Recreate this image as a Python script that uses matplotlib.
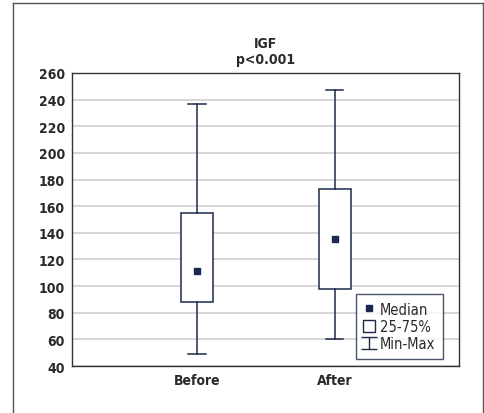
import matplotlib.pyplot as plt
from matplotlib.lines import Line2D
from matplotlib.patches import Rectangle
from matplotlib.path import Path

groups = ["Before", "After"]
v_min = [49, 60]
q25 = [88, 98]
median = [111, 135]
q75 = [155, 173]
v_max = [237, 247]

navy = "#1b2a4a"
txt = "#2a2a2a"
plt.rcParams['font.family'] = ['DejaVu Sans']
plt.rcParams['font.stretch'] = 'condensed'

fig = plt.figure(figsize=(4.84, 4.14), dpi=100)
ax = fig.add_axes([0.1488, 0.1135, 0.7992, 0.7078])

pos = [1, 2]
bw = 0.232
cap = 0.062
for x, lo, a, m, b, hi in zip(pos, v_min, q25, median, q75, v_max):
    ax.add_patch(Rectangle((x - bw / 2, a), bw, b - a, facecolor="white",
                           edgecolor=navy, lw=1.1, zorder=3))
    ax.plot([x, x], [b, hi], color=navy, lw=1.1, zorder=3)
    ax.plot([x, x], [lo, a], color=navy, lw=1.1, zorder=3)
    ax.plot([x - cap, x + cap], [hi, hi], color=navy, lw=1.1, zorder=3)
    ax.plot([x - cap, x + cap], [lo, lo], color=navy, lw=1.1, zorder=3)
    ax.plot(x, m, 's', color=navy, ms=5, zorder=4)

ax.set_xlim(0.092, 2.902)
ax.set_ylim(40, 260)
ax.set_yticks(range(40, 261, 20))
ax.set_xticks(pos)
ax.set_xticklabels(groups)
ax.grid(axis="y", color="#d0d0d0", lw=1.2)
ax.set_axisbelow(True)
for s in ax.spines.values():
    s.set_color("#333333")
    s.set_linewidth(1)
ax.tick_params(axis="both", length=0, labelsize=10, colors=txt, pad=5)
for t in ax.get_xticklabels() + ax.get_yticklabels():
    t.set_fontweight("bold")
ax.set_title("IGF\np<0.001", fontsize=10, fontweight="bold", color=txt,
             linespacing=1.2, pad=7)

# legend
ibeam = Path([(-1, 0.8), (1, 0.8), (0, 0.8), (0, -0.8), (-1, -0.8), (1, -0.8)],
             [Path.MOVETO, Path.LINETO, Path.MOVETO, Path.LINETO,
              Path.MOVETO, Path.LINETO])
handles = [
    Line2D([], [], marker='s', color=navy, ls='none', ms=4),
    Line2D([], [], marker='s', mfc='white', mec=navy, mew=1, ls='none', ms=8),
    Line2D([], [], marker=ibeam, color=navy, mfc='none', mew=1, ls='none', ms=11),
]
leg = ax.legend(handles, ["Median", "25-75%", "Min-Max"], loc="lower right",
                bbox_to_anchor=(0.959, 0.024), frameon=True,
                prop={'size': 10.5, 'stretch': 'condensed'},
                fancybox=False, handlelength=0.8, handletextpad=0.3,
                labelspacing=0.15, borderpad=0.55, borderaxespad=0)
leg.get_frame().set_edgecolor(navy)
leg.get_frame().set_linewidth(1)
for t in leg.get_texts():
    t.set_color(txt)

# outer frame
fig.add_artist(Line2D([0.027, 0.027], [0, 0.99], color="#555555", lw=1))
fig.add_artist(Line2D([0.027, 0.997], [0.99, 0.99], color="#555555", lw=1))
fig.add_artist(Line2D([0.997, 0.997], [0, 0.99], color="#555555", lw=1))

fig.savefig("out.png", dpi=100)
